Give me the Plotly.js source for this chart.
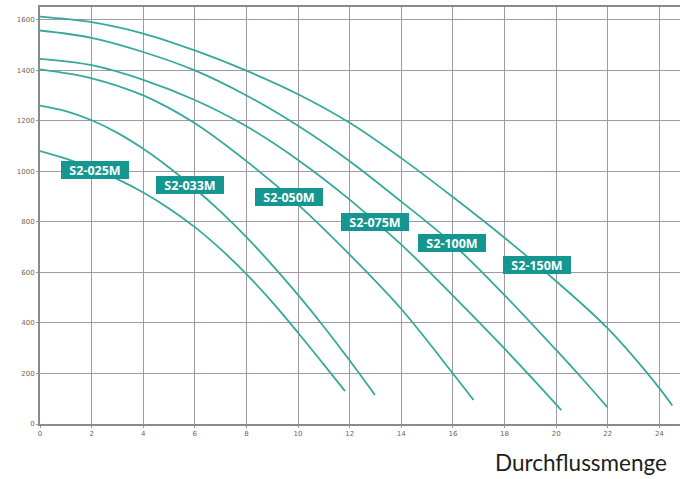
<!DOCTYPE html>
<html>
<head>
<meta charset="utf-8">
<script src="https://cdn.plot.ly/plotly-3.0.1.min.js"></script>
<style>html,body{margin:0;padding:0;background:#fff;}#chart{width:680px;height:479px;}</style>
</head>
<body>
<div id="chart"></div>
<script>
// Pump curves: flow (x) vs head (y)
const seriesNames = ["S2-025M", "S2-033M", "S2-050M", "S2-075M", "S2-100M", "S2-150M"];

const x025 = [0, 1, 2, 3, 4, 5, 6, 7, 8, 9, 10, 11, 11.82];
const y025 = [1080, 1050, 1013, 969, 916, 853, 779, 692, 593, 482, 361, 235, 130];

const x033 = [0, 1, 2, 3, 4, 5, 6, 7, 8, 9, 10, 11, 12, 12.98];
const y033 = [1260, 1238, 1202, 1152, 1089, 1015, 932, 840, 739, 629, 511, 385, 251, 115];

const x050 = [0, 2, 4, 6, 8, 10, 12, 14, 16, 16.8];
const y050 = [1403, 1368, 1300, 1190, 1040, 868, 670, 455, 200, 95];

const x075 = [0, 2, 4, 6, 8, 10, 12, 14, 16, 18, 20, 20.2];
const y075 = [1445, 1420, 1362, 1282, 1178, 1045, 888, 710, 508, 298, 78, 55];

const x100 = [0, 2, 4, 6, 8, 10, 12, 14, 16, 18, 20, 21, 21.98];
const y100 = [1557, 1528, 1472, 1399, 1300, 1180, 1040, 880, 712, 510, 293, 181, 67];

const x150 = [0, 2, 4, 6, 8, 10, 12, 14, 16, 18, 20, 22, 24, 24.5];
const y150 = [1612, 1590, 1545, 1478, 1398, 1305, 1192, 1052, 898, 737, 565, 378, 142, 73];

const labelX = [2.15, 5.83, 9.66, 13.0, 15.95, 19.24];

const xTicks = [0, 2, 4, 6, 8, 10, 12, 14, 16, 18, 20, 22, 24];
const yTicks = [0, 200, 400, 600, 800, 1000, 1200, 1400, 1600];
const xTitle = "Durchflussmenge";

const xs = [x025, x033, x050, x075, x100, x150];
const ys = [y025, y033, y050, y075, y100, y150];

function interp(xa, ya, x) {
  for (let i = 0; i < xa.length - 1; i++) {
    if (x >= xa[i] && x <= xa[i + 1]) {
      const t = (x - xa[i]) / (xa[i + 1] - xa[i]);
      return ya[i] + t * (ya[i + 1] - ya[i]);
    }
  }
  return ya[ya.length - 1];
}

const lineColor = "#35a99b";
const traces = seriesNames.map((n, i) => ({
  type: "scatter", mode: "lines", name: n,
  x: xs[i], y: ys[i],
  line: {color: lineColor, width: 1.8, shape: "spline", smoothing: 1},
  hoverinfo: "x+y+name"
}));

const annotations = seriesNames.map((n, i) => ({
  x: labelX[i], y: interp(xs[i], ys[i], labelX[i]),
  xref: "x", yref: "y", text: n, showarrow: false,
  xanchor: "center", yanchor: "middle",
  width: 62, height: 12, align: "center",
  font: {family: "Open Sans, sans-serif", size: 12.5, color: "#ffffff", weight: 700},
  bgcolor: "#159690", borderpad: 3, borderwidth: 0
}));

annotations.push({
  x: 1, y: 0, xref: "paper", yref: "paper",
  xanchor: "right", yanchor: "top", yshift: -23, xshift: -11,
  text: xTitle, showarrow: false,
  font: {family: "Lato, sans-serif", size: 22.5, color: "#1e1e1e"}
});

const gridCol = "#a09ba0";
const layout = {
  width: 680, height: 479,
  margin: {l: 40, r: 0, t: 7, b: 55},
  paper_bgcolor: "#ffffff", plot_bgcolor: "#ffffff",
  showlegend: false,
  xaxis: {
    range: [0, 24.8], tickvals: xTicks, ticktext: xTicks.map(String),
    showgrid: true, gridcolor: gridCol, gridwidth: 1,
    zeroline: false, showline: true, linecolor: "#8a8a8a", linewidth: 1.6, mirror: true,
    ticks: "outside", ticklen: 2, tickcolor: "#999",
    tickfont: {family: "DejaVu Sans, sans-serif", size: 7, color: "#666"}
  },
  yaxis: {
    range: [0, 1650], tickvals: yTicks, ticktext: yTicks.map(String),
    showgrid: true, gridcolor: gridCol, gridwidth: 1,
    zeroline: false, showline: true, linecolor: "#8a8a8a", linewidth: 2,
    ticks: "outside", ticklen: 2, tickcolor: "#999",
    tickfont: {family: "DejaVu Sans, sans-serif", size: 7, color: "#666"}
  },
  annotations: annotations
};

Plotly.newPlot("chart", traces, layout, {displayModeBar: false, staticPlot: true});
</script>
</body>
</html>
